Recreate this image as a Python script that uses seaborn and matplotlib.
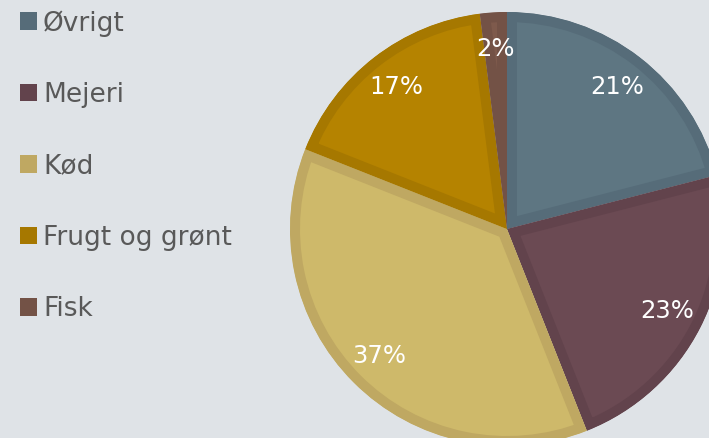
import matplotlib
matplotlib.use("Agg")
import matplotlib.pyplot as plt
import matplotlib.patches as mpatches
import seaborn as sns

categories = ["Øvrigt", "Mejeri", "Kød", "Frugt og grønt", "Fisk"]
values = [21, 23, 37, 17, 2]
fill_colors = ["#5e7682", "#6b4a53", "#ceb96a", "#b58300", "#7e5a4c"]
edge_colors = ["#566c79", "#62434c", "#bfa862", "#a67800", "#735246"]

sns.set_theme(style="white")
bg = "#dfe3e7"
plt.rcParams["font.family"] = ["DejaVu Sans"]

fig = plt.figure(figsize=(7.09, 4.38), dpi=100, facecolor=bg)
ax = fig.add_axes([290 / 709, (438 - 229 - 217) / 438, 434 / 709, 434 / 438])
ax.set_facecolor(bg)

wedges, texts, autotexts = ax.pie(
    values, colors=fill_colors, startangle=90, counterclock=False,
    autopct="%1.0f%%", pctdistance=0.83, radius=1,
    textprops=dict(color="white", fontsize=17.5),
)
for w, ec in zip(wedges, edge_colors):
    w.set_edgecolor(ec)
    w.set_linewidth(14.4)
    w.set_joinstyle("miter")
    w.set_clip_path(w)
    w.set_clip_on(True)
ax.set_xlim(-1, 1)
ax.set_ylim(-1, 1)
ax.set_aspect("equal")
ax.axis("off")

handles = [mpatches.Patch(facecolor=c, edgecolor="none") for c in edge_colors]
leg = fig.legend(
    handles, categories, loc="upper left", bbox_to_anchor=(20 / 709, 1 - 10 / 438),
    frameon=False, fontsize=19, labelspacing=1.72, handlelength=0.65,
    handleheight=0.65, handletextpad=0.22, borderaxespad=0, borderpad=0,
)
for t in leg.get_texts():
    t.set_color("#595959")

fig.savefig("out.png", dpi=100, facecolor=bg)
